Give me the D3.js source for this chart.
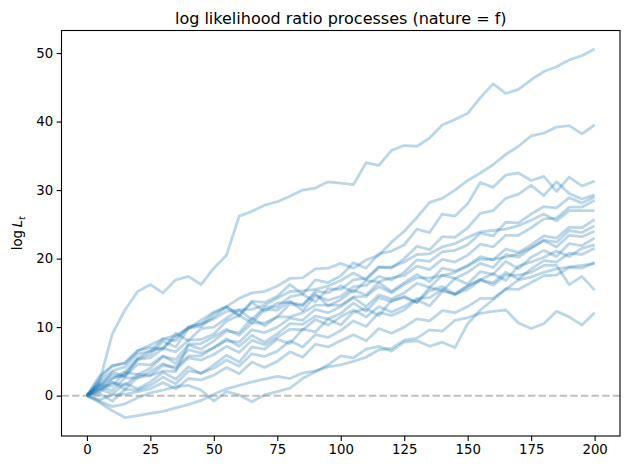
<!DOCTYPE html>
<html><head><meta charset="utf-8">
<script src="https://cdn.jsdelivr.net/npm/d3@7"></script>
<style>body{margin:0;background:#fff}svg{display:block}text{font-family:"DejaVu Sans",sans-serif;fill:#000}</style>
</head><body><svg id="c" width="630" height="470"></svg>
<script>
// time steps 0..200 sampled every 5
const steps = d3.range(0, 201, 5);
const xTicks = [0, 25, 50, 75, 100, 125, 150, 175, 200];
const yTicks = [0, 10, 20, 30, 40, 50];
const title = "log likelihood ratio processes (nature = f)";

const pathA = [0,2.0,9.0,12.5,15.2,16.2,15.0,16.9,17.4,16.2,18.6,20.5,26.2,26.9,27.8,28.3,29.1,30.0,30.3,31.2,31.0,30.8,34.0,33.6,35.8,36.5,36.4,37.6,39.5,40.3,41.2,43.5,45.5,44.1,44.7,46.1,47.3,48.0,49.0,49.6,50.6];
const pathB = [0,1.5,2.5,3.5,5.5,6.5,7.0,8.5,9.8,11.0,12.2,13.0,14.2,15.0,15.2,16.0,17.1,17.2,18.5,18.6,19.3,18.6,19.8,20.5,22.4,24.0,26.0,28.2,28.8,30.0,31.4,32.5,33.7,35.2,36.4,37.9,38.3,39.2,39.4,38.2,39.5];
const pathC = [0,-1.0,-2.2,-3.2,-2.9,-2.6,-2.3,-1.8,-1.3,-0.7,0.2,1.0,1.5,2.0,2.4,2.8,2.5,3.3,3.6,4.2,4.5,5.0,5.6,6.7,6.9,8.1,8.4,9.6,9.4,11.0,11.4,12.0,12.3,12.5,10.6,9.8,10.5,12.3,11.5,10.3,12.1];
const pathD = [0,-0.8,-1.6,-1.2,-0.3,0.4,0.8,1.3,1.5,0.8,-0.8,0.6,0.1,-0.9,0.1,0.6,1.1,2.5,3.5,4.5,5.8,5.5,6.8,7.2,6.5,7.8,8.0,7.2,7.8,7.0,10.5,12.5,14.0,15.5,16.9,17.3,18.0,18.5,18.8,19.0,19.3];
const pathE1 = [0,1.2,3.4,2.9,5.3,6.0,7.9,7.1,9.8,10.1,11.5,12.9,11.6,13.8,13.6,14.5,16.2,14.8,16.9,16.5,17.5,19.4,18.6,20.7,21.1,22.0,24.3,23.8,26.5,26.2,28.0,31.1,30.4,32.2,32.5,31.4,32.0,29.8,31.9,30.6,31.3];
const pathE2 = [0,2.5,4.3,4.8,6.6,7.0,6.8,9.1,8.0,9.8,10.0,11.3,12.5,11.1,12.9,13.0,14.4,14.8,13.7,15.6,15.5,16.9,17.1,18.8,18.6,20.0,21.8,21.3,23.2,23.1,24.5,26.6,27.0,28.8,29.4,30.7,29.2,31.2,29.5,28.7,29.3];
const pathE3 = [0,0.8,2.5,3.0,5.3,5.5,6.9,6.4,8.1,8.2,9.0,10.9,11.7,10.6,12.6,12.5,13.8,12.4,14.6,13.9,14.5,15.9,16.1,17.4,16.9,18.0,19.8,19.6,21.0,21.2,22.0,23.7,23.3,25.3,25.2,26.5,27.6,27.4,28.9,28.1,29.0];
const pathE4 = [0,1.6,1.4,3.4,3.1,4.0,5.7,5.3,7.4,6.8,8.0,9.4,9.2,11.3,10.2,11.5,13.4,13.1,15.3,15.0,16.0,15.1,16.8,16.6,17.2,17.5,18.9,18.4,19.9,19.5,20.5,22.1,21.7,23.4,23.4,24.5,25.8,25.9,27.5,27.5,28.5];
const pathE5 = [0,2.1,3.6,4.2,6.1,6.5,8.3,8.0,10.1,10.4,12.0,13.0,11.8,13.6,12.3,13.5,13.6,13.3,14.9,13.1,14.0,15.4,14.7,16.5,15.2,16.5,17.7,16.6,18.6,18.2,19.0,20.3,19.8,21.4,20.9,22.0,23.3,23.0,24.6,24.5,25.7];
const pathE6 = [0,0.5,1.9,1.5,3.1,3.0,4.4,4.2,5.8,5.8,7.0,8.0,7.8,9.6,9.2,10.0,11.3,11.0,12.6,12.1,13.0,14.3,13.0,14.7,14.1,15.0,16.4,15.8,17.6,17.1,18.0,19.3,18.7,20.6,20.2,21.5,22.7,22.4,24.1,23.8,24.8];
const pathE7 = [0,1.0,0.2,1.8,1.0,2.0,3.4,2.4,4.2,3.2,4.5,5.9,4.9,7.1,6.8,8.2,7.6,9.7,9.3,11.2,10.3,12.2,12.7,11.7,13.9,14.3,13.6,15.8,15.3,17.1,16.3,18.1,17.7,19.6,18.5,20.2,21.2,20.3,22.2,21.9,23.0];
const pathE8 = [0,0.3,-0.8,0.9,0.8,1.5,2.7,1.7,3.6,3.3,4.0,5.2,4.3,6.1,5.7,6.5,8.0,7.1,8.9,8.5,9.5,10.9,10.1,12.1,11.7,12.5,14.0,13.1,15.2,14.9,16.0,16.9,17.8,16.8,18.9,19.5,20.2,21.1,20.3,21.5,22.0];
const pathE9 = [0,1.8,3.0,2.7,4.6,4.5,5.8,4.7,6.7,6.2,7.0,8.3,7.2,8.8,7.8,9.0,10.5,10.4,11.6,11.2,12.0,13.5,12.3,14.3,13.7,14.5,13.6,15.3,15.9,14.8,15.5,16.8,16.5,18.0,17.0,18.5,19.7,19.5,20.8,20.6,21.5];
const pathE10 = [0,-0.6,0.1,0.2,0.6,1.0,1.9,1.0,2.5,2.3,3.0,4.1,3.2,4.9,4.1,5.0,6.4,5.6,7.5,7.1,8.0,8.9,8.0,9.8,9.1,10.0,11.2,10.9,12.4,12.1,13.0,14.2,14.2,15.6,15.5,16.5,17.5,17.6,18.7,18.6,19.4];
const pathE11 = [0,0.9,2.0,0.9,2.7,2.9,3.6,3.5,7.5,7.6,8.6,9.7,8.8,10.6,10.6,11.5,11.5,12.1,13.2,13.2,13.2,14.4,14.5,15.9,15.0,16.2,17.2,17.2,17.5,18.0,18.9,19.9,19.9,20.2,20.7,21.6,22.6,21.7,23.4,23.2,24.0];
const pathE12 = [0,1.4,0.7,2.6,2.6,3.5,4.7,3.8,5.5,5.2,6.0,7.2,6.3,8.1,7.4,8.5,9.7,9.6,11.1,10.3,11.5,12.5,11.5,13.0,12.2,13.0,14.2,14.3,15.5,14.7,16.0,17.0,16.1,17.6,17.6,18.0,19.0,19.0,16.2,17.4,15.4];
const pathE13 = [0,2.9,4.4,4.7,6.5,7.4,8.3,8.8,9.9,10.5,11.2,12.3,12.5,12.6,13.2,14.2,15.2,15.3,15.5,16.0,16.8,17.9,16.9,18.7,18.8,19.5,20.6,20.7,21.7,22.2,23.1,23.9,24.1,24.3,24.8,25.6,26.5,25.5,27.0,27.0,27.0];

const paths = [pathA, pathB, pathC, pathD, pathE1, pathE2, pathE3, pathE4, pathE5, pathE6, pathE7, pathE8, pathE9, pathE10, pathE11, pathE12, pathE13];

const svg = d3.select("#c");
const L = 61.5, R = 620, T = 30.5, B = 436;

const allY = paths.flat();
const yMin = d3.min(allY), yMax = d3.max(allY), pad = (yMax - yMin) * 0.05;
const x = d3.scaleLinear().domain([-10, 210]).range([L, R]);
const y = d3.scaleLinear().domain([yMin - pad, yMax + pad]).range([B, T]);

const line = d3.line().x((d, i) => x(steps[i])).y(d => y(d));

svg.append("g").selectAll("path").data(paths).join("path")
  .attr("d", line)
  .attr("fill", "none")
  .attr("stroke", "#1f77b4")
  .attr("stroke-opacity", 0.3)
  .attr("stroke-width", 2.8)
  .attr("stroke-linejoin", "round")
  .attr("stroke-linecap", "butt");

// dashed zero line
svg.append("line")
  .attr("x1", L).attr("x2", R).attr("y1", y(0)).attr("y2", y(0))
  .attr("stroke", "#808080").attr("stroke-opacity", 0.5)
  .attr("stroke-width", 2).attr("stroke-dasharray", "7.4,3.2");

// frame
svg.append("rect").attr("x", L).attr("y", T).attr("width", R - L).attr("height", B - T)
  .attr("fill", "none").attr("stroke", "#000").attr("stroke-width", 1.1);

const fs = 13.3;
const xa = svg.append("g").attr("transform", `translate(0,${B})`)
  .call(d3.axisBottom(x).tickValues(xTicks).tickSize(4.9).tickPadding(3.5).tickFormat(d3.format("d")));
const ya = svg.append("g").attr("transform", `translate(${L},0)`)
  .call(d3.axisLeft(y).tickValues(yTicks).tickSize(4.9).tickPadding(3.5).tickFormat(d3.format("d")));
[xa, ya].forEach(a => {
  a.select(".domain").remove();
  a.selectAll(".tick line").attr("stroke", "#000").attr("stroke-width", 1.1);
  a.selectAll(".tick text").attr("font-size", fs).attr("font-family", "DejaVu Sans").attr("fill", "#000");
});

svg.append("text").attr("x", (L + R) / 2).attr("y", 23.5).attr("text-anchor", "middle")
  .attr("font-size", 16).text(title);

const yl = svg.append("text").attr("transform", `translate(22,${(T + B) / 2}) rotate(-90)`)
  .attr("text-anchor", "middle").attr("font-size", fs);
yl.append("tspan").text("log\u2009");
yl.append("tspan").attr("font-style", "italic").text("L");
yl.append("tspan").attr("font-style", "italic").attr("font-size", fs * 0.7).attr("dy", 3).text("t");
</script></body></html>
